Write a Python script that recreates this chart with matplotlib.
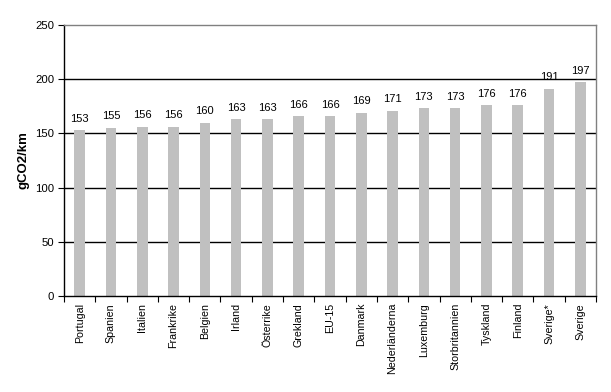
import matplotlib
matplotlib.use("Agg")
import matplotlib.pyplot as plt
import numpy as np

countries = ["Portugal", "Spanien", "Italien", "Frankrike", "Belgien", "Irland",
             "Österrike", "Grekland", "EU-15", "Danmark", "Nederländerna",
             "Luxemburg", "Storbritannien", "Tyskland", "Finland", "Sverige*", "Sverige"]
values = [153, 155, 156, 156, 160, 163, 163, 166, 166, 169, 171, 173, 173, 176, 176, 191, 197]
yticks = [0, 50, 100, 150, 200, 250]

plt.rcParams["font.family"] = ["Liberation Sans", "DejaVu Sans"]
plt.rcParams["font.size"] = 8

fig = plt.figure(figsize=(6.11, 3.92), dpi=100)
ax = fig.add_axes([64 / 611, 1 - 296 / 392, (596 - 64) / 611, (296 - 25) / 392])

x = np.arange(len(countries))
ax.bar(x, values, width=0.34, color="#c0c0c0", zorder=2)
for xi, v in zip(x, values):
    ax.text(xi, v + 6, str(v), ha="center", va="bottom", fontsize=8)

ax.set_xlim(-0.5, len(countries) - 0.5)
ax.set_ylim(0, 250)
ax.set_yticks(yticks)
for yv in yticks[1:-1]:
    ax.axhline(yv, color="black", lw=1, zorder=1)

ax.set_xticks(np.arange(len(countries) + 1) - 0.5)
ax.set_xticklabels([])
ax.set_xticks(x, minor=True)
ax.set_xticklabels(countries, minor=True, rotation=90, fontsize=7.7)
ax.tick_params(axis="x", which="minor", length=0, pad=5)
ax.tick_params(axis="x", which="major", length=4, direction="out", color="black")
ax.tick_params(axis="y", length=4, direction="out", pad=3, labelsize=8.2)

ax.spines["left"].set_color("black")
ax.spines["bottom"].set_color("black")
ax.spines["top"].set_color("#808080")
ax.spines["right"].set_color("#808080")
for s in ax.spines.values():
    s.set_linewidth(1)

ax.set_ylabel("gCO2/km", fontweight="bold", fontsize=9.5, labelpad=4)

fig.savefig("out.png", dpi=100)
